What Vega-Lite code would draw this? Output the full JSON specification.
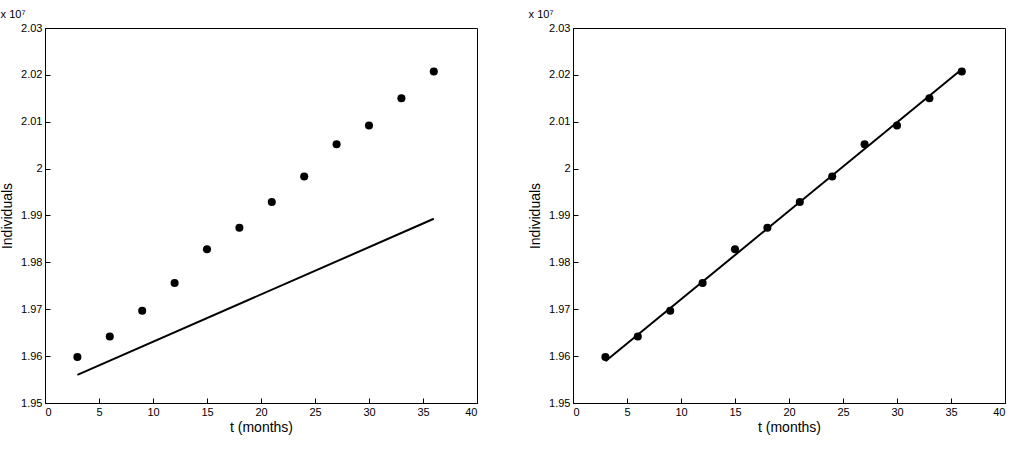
{
  "$schema": "https://vega.github.io/schema/vega-lite/v6.json",
  "padding": {"left": 0, "top": 8, "right": 10, "bottom": 5},
  "background": "white",
  "datasets": {
    "pts": [
      {"t": 3, "v": 1.9598}, {"t": 6, "v": 1.9642}, {"t": 9, "v": 1.9697},
      {"t": 12, "v": 1.9756}, {"t": 15, "v": 1.9828}, {"t": 18, "v": 1.9874},
      {"t": 21, "v": 1.9929}, {"t": 24, "v": 1.9983}, {"t": 27, "v": 2.0052},
      {"t": 30, "v": 2.0092}, {"t": 33, "v": 2.0150}, {"t": 36, "v": 2.0207}
    ],
    "fitA": [{"t": 3, "v": 1.9560}, {"t": 36, "v": 1.9893}],
    "fitB": [{"t": 3, "v": 1.9589}, {"t": 36, "v": 2.0212}]
  },
  "config": {
    "font": "Liberation Sans",
    "view": {"stroke": "black", "strokeWidth": 1},
    "axis": {
      "grid": false, "domainColor": "black", "tickColor": "black",
      "tickSize": -5, "labelPadding": 8, "labelFontSize": 11, "labelColor": "black",
      "titleFontSize": 14, "titleFontWeight": "normal", "titleColor": "black"
    },
    "title": {"fontSize": 11, "fontWeight": "normal", "anchor": "start", "offset": 2}
  },
  "spacing": 50,
  "hconcat": [
    {
      "width": 432, "height": 375,
      "title": "x 10⁷",
      "layer": [
        {
          "data": {"name": "fitA"},
          "mark": {"type": "line", "color": "black", "strokeWidth": 2},
          "encoding": {
            "x": {"field": "t", "type": "quantitative", "scale": {"domain": [0, 40]}, "title": "t (months)", "axis": {"values": [0,5,10,15,20,25,30,35,40], "titlePadding": 3}},
            "y": {"field": "v", "type": "quantitative", "scale": {"domain": [1.95, 2.03]}, "title": "Individuals", "axis": {"values": [1.95,1.96,1.97,1.98,1.99,2,2.01,2.02,2.03], "format": "~g", "titlePadding": 6}}
          }
        },
        {
          "data": {"name": "pts"},
          "mark": {"type": "circle", "color": "black", "opacity": 1, "size": 65},
          "encoding": {
            "x": {"field": "t", "type": "quantitative"},
            "y": {"field": "v", "type": "quantitative"}
          }
        }
      ]
    },
    {
      "width": 432, "height": 375,
      "title": "x 10⁷",
      "layer": [
        {
          "data": {"name": "fitB"},
          "mark": {"type": "line", "color": "black", "strokeWidth": 2},
          "encoding": {
            "x": {"field": "t", "type": "quantitative", "scale": {"domain": [0, 40]}, "title": "t (months)", "axis": {"values": [0,5,10,15,20,25,30,35,40], "titlePadding": 3}},
            "y": {"field": "v", "type": "quantitative", "scale": {"domain": [1.95, 2.03]}, "title": "Individuals", "axis": {"values": [1.95,1.96,1.97,1.98,1.99,2,2.01,2.02,2.03], "format": "~g", "titlePadding": 6}}
          }
        },
        {
          "data": {"name": "pts"},
          "mark": {"type": "circle", "color": "black", "opacity": 1, "size": 65},
          "encoding": {
            "x": {"field": "t", "type": "quantitative"},
            "y": {"field": "v", "type": "quantitative"}
          }
        }
      ]
    }
  ]
}
